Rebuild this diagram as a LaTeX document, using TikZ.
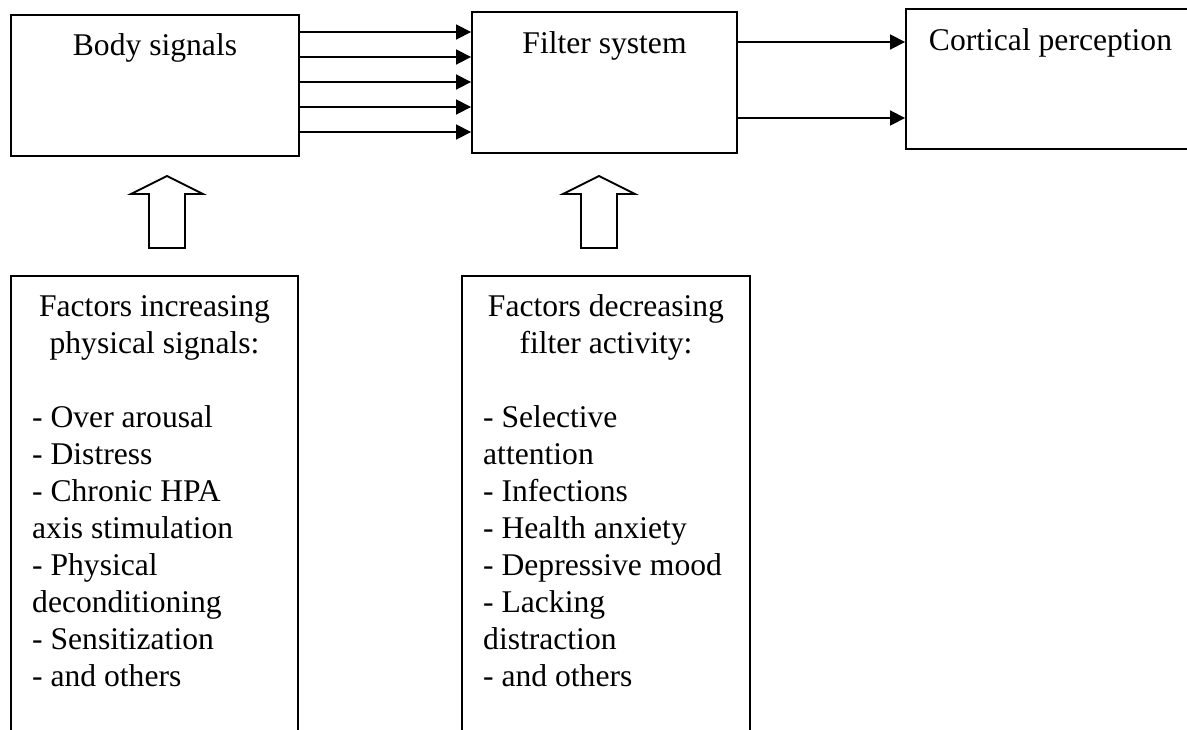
\documentclass[tikz,border=0pt]{standalone}
\usepackage{fontspec}
\setmainfont{Liberation Serif}
\usetikzlibrary{arrows.meta}

\begin{document}
\begin{tikzpicture}[x=1pt,y=-1pt,
  box/.style={draw,line width=1.9pt,inner sep=0pt,rectangle},
  txt/.style={inner sep=0pt,font=\fontsize{31.6pt}{37pt}\selectfont},
  flow/.style={line width=1.8pt,-{Triangle[length=15pt,width=15pt]}},
  blockarrow/.style={draw,line width=1.9pt,line join=miter,fill=white}]
\clip (0,0) rectangle (1187,729);

% top row of stages
\node[box,minimum width=288pt,minimum height=141pt] (body) at (155,85.5) {};
\node[box,minimum width=265pt,minimum height=141pt] (filter) at (604.5,82.5) {};
\node[box,minimum width=289pt,minimum height=140pt] (cortex) at (1050.5,79) {};
\node[txt,anchor=base] (tbody) at (155,55) {Body signals};
\node[txt,anchor=base] (tfilter) at (604.5,53) {Filter system};
\node[txt,anchor=base] (tcortex) at (1050.5,50) {Cortical perception};

% lower boxes with influencing factors (multi-line nodes sit on their last baseline)
\node[box,minimum width=287pt,minimum height=484pt] (inc) at (154.5,518) {};
\node[box,minimum width=288pt,minimum height=484pt] (dec) at (606,518) {};
\node[txt,anchor=base,align=center] (hinc) at (154.5,353) {Factors increasing\\physical signals:};
\node[txt,anchor=base west,align=left] (linc) at (32,686)
  {- Over arousal\\- Distress\\- Chronic HPA\\axis stimulation\\- Physical\\deconditioning\\- Sensitization\\- and others};
\node[txt,anchor=base,align=center] (hdec) at (606,353) {Factors decreasing\\filter activity:};
\node[txt,anchor=base west,align=left] (ldec) at (483,686)
  {- Selective\\attention\\- Infections\\- Health anxiety\\- Depressive mood\\- Lacking\\distraction\\- and others};

% signal lines between the stages
\foreach \yy in {32,57,82,107,132}
  \draw[flow] (body.east |- 0,\yy) -- (filter.west |- 0,\yy);
\foreach \yy in {42,118}
  \draw[flow] (filter.east |- 0,\yy) -- (cortex.west |- 0,\yy);

% hollow block arrows pointing up into the stages
\coordinate (ua) at (167,248);
\coordinate (ub) at (599,248);
\foreach \c in {ua,ub}
  \draw[blockarrow] (\c) ++(-18,0) -- ++(0,-54) -- ++(-18,0) -- ++(36,-18)
    -- ++(36,18) -- ++(-18,0) -- ++(0,54) -- cycle;
\end{tikzpicture}
\end{document}
